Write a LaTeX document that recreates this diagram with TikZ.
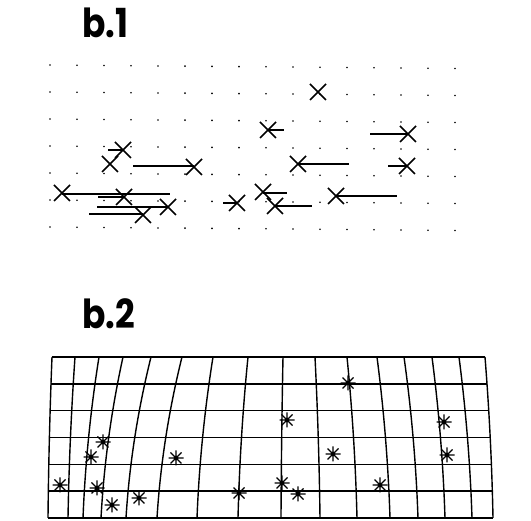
\documentclass[tikz,border=0pt]{standalone}
\usepackage{fontspec}
\setmainfont{Poppins}
\usetikzlibrary{calc}

\begin{document}
\begin{tikzpicture}[x=1pt,y=-1pt,
    gridline/.style={line width=1.4pt},
    shiftline/.style={line width=1.4pt},
    label/.style={anchor=base west, inner sep=0pt, font=\bfseries\fontsize{40}{40}\selectfont},
    crossmark/.pic={\draw[line width=1.5pt] (-8,-8) -- (8,8) (-8,8) -- (8,-8);},
    starmark/.pic={\draw[line width=1.3pt] (-7.5,0) -- (7.5,0) (0,-7.5) -- (0,7.5) (-5.5,-5.5) -- (5.5,5.5) (-5.5,5.5) -- (5.5,-5.5);
      \fill (0,0) circle (2.4);}]
    \useasboundingbox (0,0) rectangle (531,521);
    % Labels
    \node[label] (titleA) at (82,38) {\scalebox{0.86}[1]{b.1}};
    \node[label] (titleB) at (82,329) {\scalebox{0.86}[1]{b.2}};
    % b.1: dot grid
    \foreach \i in {0,...,15}
      \foreach \j in {0,...,6}
        \fill ({50+27*\i},{65+27*\j+0.23*\i}) circle (0.9);
    % b.1: shifts
    \foreach \xa/\xb/\yv in {108/123/150, 133/194/166, 62/170/194, 98/124/197, 97/168/207,
        89/143/214, 223/237/203, 263/287/193, 275/312/206, 268/284/130,
        370/408/134, 298/349/164, 388/407/166, 336/397/196}
      \draw[shiftline] (\xa,\yv) -- (\xb,\yv);
    % b.1: landmarks
    \foreach \px/\py in {123/150, 110/164, 194/167, 62/193, 124/197, 168/207, 143/215, 237/203,
        263/192, 275/206, 318/92, 268/130, 408/134, 298/164, 407/166, 336/196}
      \pic at (\px,\py) {crossmark};
    % b.2: deformed grid, vertical lines
    \foreach \xt/\xb in {52/48, 75/68, 99/83, 123/101, 151/126, 182/157, 213/197, 248/238,
        283/281, 315/320, 347/357, 377/390, 404/418, 432/445, 459/472, 485/493}
      \draw[gridline] plot[domain=0:1, samples=20, smooth] ({\xb+(\xt-\xb)*(0.4*\x+0.6*\x*\x)},{518-161*\x});
    % b.2: horizontal lines
    \foreach \j in {0,...,6} {
      \pgfmathsetmacro{\tv}{1-\j/6}
      \pgfmathsetmacro{\gv}{0.4*\tv+0.6*\tv*\tv}
      \draw[gridline] ({48+4*\gv},{357+161*\j/6}) -- ({493-8*\gv},{357+161*\j/6});
    }
    % b.2: landmarks
    \foreach \px/\py in {348/383, 287/420, 444/422, 103/442, 91/457, 176/458, 333/454, 447/455,
        60/485, 97/488, 112/505, 139/498, 239/493, 282/483, 298/494, 380/485}
      \pic at (\px,\py) {starmark};
\end{tikzpicture}
\end{document}
